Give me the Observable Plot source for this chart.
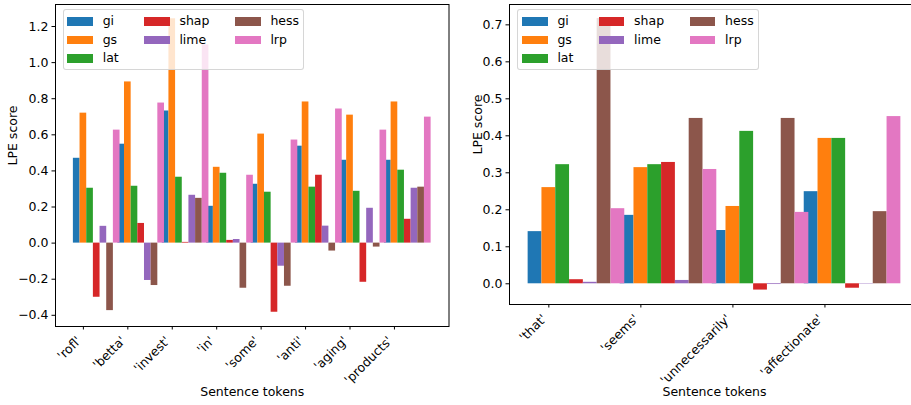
<!DOCTYPE html>
<html>
<head>
<meta charset="utf-8">
<script src="https://cdn.jsdelivr.net/npm/d3@7"></script>
<script src="https://cdn.jsdelivr.net/npm/@observablehq/plot@0.6"></script>
<style>
  html, body { margin: 0; padding: 0; background: #fff; overflow: hidden; }
  #fig { position: relative; width: 911px; height: 405px; overflow: hidden; font-family: "DejaVu Sans", sans-serif; }
  #fig svg { max-width: none !important; font-family: "DejaVu Sans", sans-serif !important; font-size: 12.5px !important; }
  #fig svg text { font-family: "DejaVu Sans", sans-serif !important; font-size: 12.5px !important; fill: #000; }
  .panel { position: absolute; top: 0; height: 405px; }
  .legend { position: absolute; width: 241.5px; height: 61px; background: rgba(255,255,255,0.8);
            border: 1px solid rgba(204,204,204,0.8); border-radius: 3px; box-sizing: border-box; }
  .lg-patch { position: absolute; width: 25.7px; height: 8.5px; }
  .lg-text { position: absolute; font-size: 12.5px; line-height: 14px; color: #000; white-space: nowrap; }
</style>
</head>
<body>
<div id="fig"></div>
<script>
// LPE scores per explanation method, one array per method and sentence.
const methods = ["gi", "gs", "lat", "shap", "lime", "hess", "lrp"];
const methodColors = ["#1f77b4", "#ff7f0e", "#2ca02c", "#d62728", "#9467bd", "#8c564b", "#e377c2"];

// Sentence 1
const tokens1 = ["'rofl'", "'betta'", "'invest'", "'in'", "'some'", "'anti'", "'aging'", "'products'"];
const gi1   = [0.470, 0.548, 0.732, 0.204, 0.326, 0.537, 0.459, 0.459];
const gs1   = [0.720, 0.893, 1.243, 0.420, 0.604, 0.782, 0.709, 0.782];
const lat1  = [0.304, 0.315, 0.365, 0.387, 0.282, 0.310, 0.287, 0.404];
const shap1 = [-0.300, 0.109, 0.004, 0.015, -0.383, 0.376, -0.217, 0.132];
const lime1 = [0.093, -0.207, 0.265, 0.020, -0.128, 0.094, 0.193, 0.304];
const hess1 = [-0.374, -0.235, 0.248, -0.250, -0.239, -0.044, -0.022, 0.310];
const lrp1  = [0.626, 0.776, 1.098, 0.376, 0.571, 0.743, 0.626, 0.698];
const yTicks1 = [-0.4, -0.2, 0.0, 0.2, 0.4, 0.6, 0.8, 1.0, 1.2];

// Sentence 2
const tokens2 = ["'that'", "'seems'", "'unnecessarily'", "'affectionate'"];
const gi2   = [0.141, 0.185, 0.144, 0.249];
const gs2   = [0.260, 0.314, 0.209, 0.393];
const lat2  = [0.322, 0.322, 0.412, 0.393];
const shap2 = [0.011, 0.328, -0.017, -0.012];
const lime2 = [0.004, 0.009, -0.002, -0.001];
const hess2 = [0.717, 0.447, 0.447, 0.195];
const lrp2  = [0.203, 0.309, 0.193, 0.452];
const yTicks2 = [0.0, 0.1, 0.2, 0.3, 0.4, 0.5, 0.6, 0.7];

const barWidth = 0.15; // in token-index units

function barRows(tokens, series) {
  const rows = [];
  series.forEach((vals, j) => {
    vals.forEach((v, i) => {
      const center = i + (j - 1) * barWidth;
      rows.push({method: methods[j], token: tokens[i], x1: center - barWidth / 2, x2: center + barWidth / 2, value: v});
    });
  });
  return rows;
}

function panel({tokens, series, yDomain, yTicks, xDomain, width, marginLeft, marginRight, marginBottom, ylabelDx, xlabelDy}) {
  const idx = d3.range(tokens.length);
  return Plot.plot({
    width, height: 405,
    marginTop: 4, marginLeft, marginRight, marginBottom,
    style: {fontSize: "12.5px", fontFamily: "DejaVu Sans, sans-serif", color: "#000", background: "transparent", overflow: "visible"},
    x: {type: "linear", domain: xDomain, axis: null},
    y: {domain: yDomain, axis: null},
    color: {domain: methods, range: methodColors},
    marks: [
      Plot.rectY(barRows(tokens, series), {x1: "x1", x2: "x2", y1: 0, y2: "value", fill: "method"}),
      Plot.axisY({ticks: yTicks, tickFormat: d3.format(".1f"), tickSize: 3.5, tickPadding: 3.5, label: null}),
      Plot.axisX({ticks: idx, tickFormat: () => "", tickSize: 3.5, label: null}),
      Plot.text(idx, {x: d => d, text: d => tokens[d], frameAnchor: "bottom", rotate: -45,
                      textAnchor: "end", lineAnchor: "bottom", dx: -1.5, dy: 15}),
      Plot.text(["LPE score"], {frameAnchor: "left", rotate: -90, dx: ylabelDx}),
      Plot.text(["Sentence tokens"], {frameAnchor: "bottom", dy: xlabelDy}),
      Plot.frame({stroke: "#000", strokeWidth: 1})
    ]
  });
}

function legend(left, top) {
  const box = document.createElement("div");
  box.className = "legend";
  box.style.left = left + "px";
  box.style.top = top + "px";
  const cols = [[0, 1, 2], [3, 4], [5, 6]];
  const colX = [3.6, 80.3, 171.3];
  cols.forEach((col, c) => {
    col.forEach((m, r) => {
      const p = document.createElement("div");
      p.className = "lg-patch";
      p.style.left = colX[c] + "px";
      p.style.top = (7.3 + r * 18.5) + "px";
      p.style.background = methodColors[m];
      box.appendChild(p);
      const t = document.createElement("div");
      t.className = "lg-text";
      t.style.left = (colX[c] + 35.4) + "px";
      t.style.top = (4 + r * 18.5) + "px";
      t.textContent = methods[m];
      box.appendChild(t);
    });
  });
  return box;
}

const fig = document.getElementById("fig");

const p1 = panel({
  tokens: tokens1, series: [gi1, gs1, lat1, shap1, lime1, hess1, lrp1],
  yDomain: [-0.462, 1.322], yTicks: yTicks1, xDomain: [-0.6275, 8.2275],
  width: 456, marginLeft: 55, marginRight: 7.5, marginBottom: 79, ylabelDx: -43, xlabelDy: 69
});
const w1 = document.createElement("div");
w1.className = "panel"; w1.style.left = "0px"; w1.style.width = "456px";
w1.appendChild(p1);
fig.appendChild(w1);

const p2 = panel({
  tokens: tokens2, series: [gi2, gs2, lat2, shap2, lime2, hess2, lrp2],
  yDomain: [-0.056, 0.755], yTicks: yTicks2, xDomain: [-0.4275, 4.0275],
  width: 470, marginLeft: 53, marginRight: 7, marginBottom: 101, ylabelDx: -32, xlabelDy: 91
});
const w2 = document.createElement("div");
w2.className = "panel"; w2.style.left = "456px"; w2.style.width = "470px";
w2.appendChild(p2);
fig.appendChild(w2);

fig.appendChild(legend(62.7, 9));
fig.appendChild(legend(517.4, 9));
</script>
</body>
</html>
